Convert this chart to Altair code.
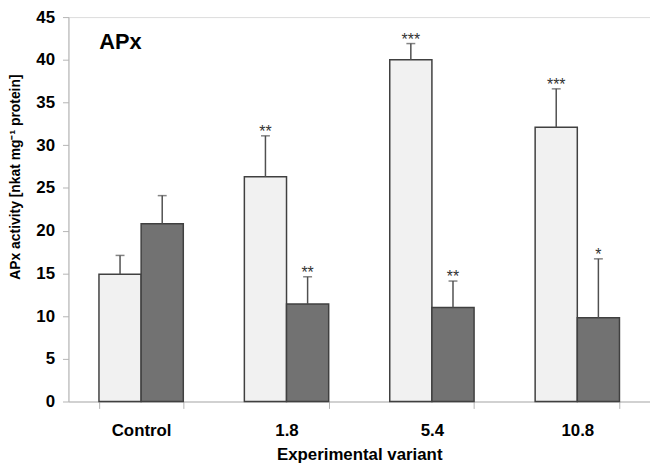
import altair as alt
import pandas as pd

categories = ["Control", "1.8", "5.4", "10.8"]
series = ["Series 1", "Series 2"]
s1_mean = [14.9, 26.3, 40.0, 32.1]
s1_upper = [17.1, 31.1, 41.9, 36.6]
s1_sig = ["", "**", "***", "***"]
s2_mean = [20.8, 11.4, 11.0, 9.8]
s2_upper = [24.1, 14.6, 14.1, 16.7]
s2_sig = ["", "**", "**", "*"]
y_ticks = [0, 5, 10, 15, 20, 25, 30, 35, 40, 45]

rows = []
for i, c in enumerate(categories):
    rows.append({"variant": c, "series": series[0], "mean": s1_mean[i], "upper": s1_upper[i], "sig": s1_sig[i]})
    rows.append({"variant": c, "series": series[1], "mean": s2_mean[i], "upper": s2_upper[i], "sig": s2_sig[i]})
df = pd.DataFrame(rows)

FONT = "Liberation Sans"
AX = "#b4b4b4"

x_enc = alt.X(
    "variant:N", sort=categories,
    scale=alt.Scale(paddingInner=0.42, paddingOuter=0.21),
    axis=alt.Axis(
        title="Experimental variant", labelAngle=0, tickBand="extent",
        tickSize=7, tickColor=AX, domainColor=AX, labelPadding=14,
        labelFontSize=17, labelFontWeight="bold", labelColor="black",
        titleFontSize=17, titleFontWeight="bold", titleColor="black",
        titlePadding=9, labelFont=FONT, titleFont=FONT,
    ),
)
xo_enc = alt.XOffset("series:N", sort=series, scale=alt.Scale(paddingInner=0, paddingOuter=0))
y_axis = alt.Axis(
    title="APx activity [nkat mg⁻¹ protein]", values=y_ticks, grid=False,
    tickSize=6, tickColor=AX, domainColor=AX, labelPadding=8,
    labelFontSize=17, labelFontWeight="bold", labelColor="black",
    titleFontSize=14, titleFontWeight="bold", titleColor="black",
    titleX=-46, titleY=161, labelFont=FONT, titleFont=FONT,
)
y_scale = alt.Scale(domain=[0, 45], nice=False)

base = alt.Chart(df)

bars = base.mark_bar(stroke="#404040", strokeWidth=1.5).encode(
    x=x_enc, xOffset=xo_enc,
    y=alt.Y("mean:Q", scale=y_scale, axis=y_axis),
    color=alt.Color("series:N", scale=alt.Scale(domain=series, range=["#f1f1f1", "#727272"]), legend=None),
)

err = base.mark_rule(color="#505050", strokeWidth=1.5).encode(
    x=x_enc, xOffset=xo_enc,
    y=alt.Y("mean:Q", scale=y_scale, axis=y_axis),
    y2="upper:Q",
)

caps = base.mark_tick(color="#505050", size=9, thickness=1.5).encode(
    x=x_enc, xOffset=xo_enc,
    y=alt.Y("upper:Q", scale=y_scale, axis=y_axis),
)

stars = base.mark_text(fontSize=16, baseline="alphabetic", dy=1, color="#333333", font=FONT).encode(
    x=x_enc, xOffset=xo_enc,
    y=alt.Y("upper:Q", scale=y_scale, axis=y_axis),
    text="sig:N",
)

label = alt.Chart(pd.DataFrame({"t": ["APx"]})).mark_text(
    fontSize=22, fontWeight="bold", align="left", baseline="alphabetic", font=FONT, color="black"
).encode(x=alt.value(31), y=alt.value(32), text="t:N")

chart = alt.layer(bars, err, caps, stars, label).properties(
    width=587, height=388, autosize="none",
    padding={"left": 61, "top": 7, "right": 0, "bottom": 70},
).configure_view(stroke="#d4d4d4", strokeWidth=1).configure(font=FONT)

chart.save("out.html", embed_options={"renderer": "svg", "actions": False})
